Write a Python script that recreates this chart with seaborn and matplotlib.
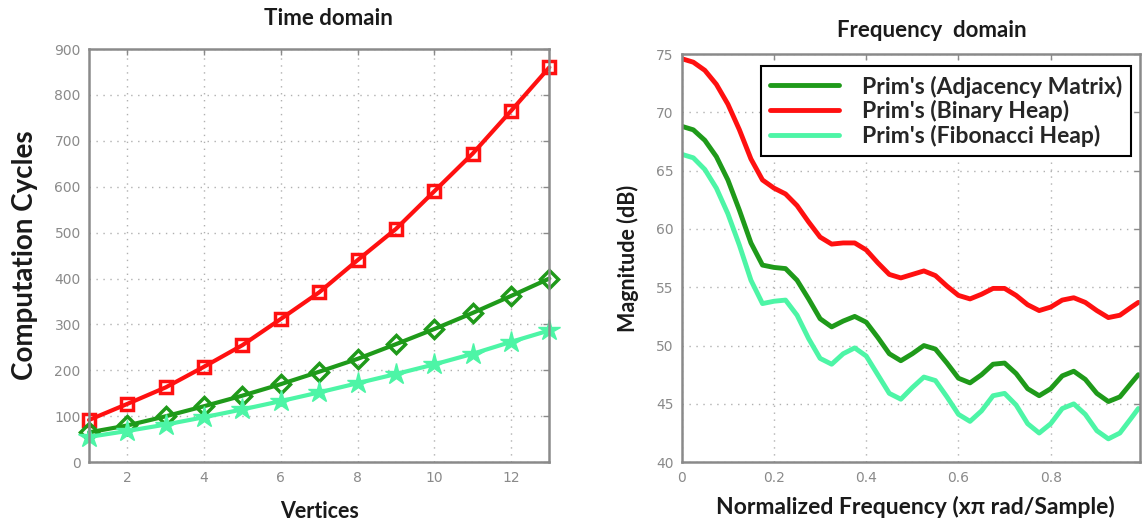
import matplotlib
matplotlib.use("Agg")
import matplotlib.pyplot as plt
import seaborn as sns
import numpy as np
import pandas as pd

sns.set_theme(style="white")
plt.rcParams['font.family'] = ['DejaVu Sans']

# ---- Time domain data ----
vertices = [1, 2, 3, 4, 5, 6, 7, 8, 9, 10, 11, 12, 13]
binary_cycles = [92, 127, 163, 208, 255, 312, 370, 440, 508, 590, 672, 765, 860]
adjacency_cycles = [65, 80, 100, 122, 145, 170, 197, 225, 257, 290, 325, 362, 400]
fibonacci_cycles = [55, 68, 82, 98, 115, 133, 152, 172, 192, 213, 236, 262, 287]

# ---- Frequency domain data ----
freq = [0.000, 0.025, 0.050, 0.075, 0.100, 0.125, 0.150, 0.175, 0.200, 0.225,
        0.250, 0.275, 0.300, 0.325, 0.350, 0.375, 0.400, 0.425, 0.450, 0.475,
        0.500, 0.525, 0.550, 0.575, 0.600, 0.625, 0.650, 0.675, 0.700, 0.725,
        0.750, 0.775, 0.800, 0.825, 0.850, 0.875, 0.900, 0.925, 0.950, 0.975, 0.990]
binary_mag = [74.6, 74.3, 73.6, 72.4, 70.7, 68.5, 66.0, 64.2, 63.5, 63.0,
              62.0, 60.6, 59.3, 58.7, 58.8, 58.8, 58.2, 57.1, 56.1, 55.8,
              56.1, 56.4, 56.0, 55.1, 54.3, 54.0, 54.4, 54.9, 54.9, 54.3,
              53.5, 53.0, 53.3, 53.9, 54.1, 53.7, 53.0, 52.4, 52.6, 53.3, 53.7]
adjacency_mag = [68.8, 68.5, 67.6, 66.2, 64.2, 61.6, 58.8, 56.9, 56.7, 56.6,
                 55.6, 54.0, 52.3, 51.6, 52.1, 52.5, 52.0, 50.7, 49.3, 48.7,
                 49.3, 50.0, 49.7, 48.5, 47.2, 46.8, 47.5, 48.4, 48.5, 47.6,
                 46.3, 45.7, 46.3, 47.4, 47.8, 47.1, 45.9, 45.2, 45.6, 46.8, 47.5]
fibonacci_mag = [66.4, 66.1, 65.1, 63.5, 61.3, 58.6, 55.6, 53.6, 53.8, 53.9,
                 52.6, 50.6, 48.9, 48.4, 49.3, 49.8, 49.1, 47.5, 45.9, 45.4,
                 46.4, 47.3, 47.0, 45.6, 44.1, 43.5, 44.4, 45.7, 45.9, 44.9,
                 43.3, 42.5, 43.3, 44.6, 45.0, 44.1, 42.7, 42.0, 42.5, 43.8, 44.6]

labels = ["Prim's (Adjacency Matrix)", "Prim's (Binary Heap)", "Prim's (Fibonacci Heap)"]
C_GREEN = "#1f9a1a"
C_RED = "#ff1010"
C_CYAN = "#4df5a6"
GRAY = "#8a8a8a"
TITLE_C = "#1a1a1a"

fig = plt.figure(figsize=(11.42, 5.27), dpi=100)
ax1 = fig.add_axes([0.078, 0.123, 0.403, 0.784])
ax2 = fig.add_axes([0.597, 0.123, 0.401, 0.7745])

def style(ax):
    for s in ax.spines.values():
        s.set_color(GRAY)
        s.set_linewidth(1.8)
    ax.tick_params(direction='in', colors=GRAY, labelcolor=GRAY, labelsize=10,
                   length=4, width=1, top=True, right=True, pad=6)
    ax.grid(True, linestyle=(0, (1, 4)), color="#b0b0b0", linewidth=1)
    ax.set_axisbelow(True)

# Left chart
sns.lineplot(x=vertices, y=binary_cycles, ax=ax1, color=C_RED, linewidth=3,
             marker='s', markersize=9, markerfacecolor='none', markeredgecolor=C_RED,
             markeredgewidth=2.5)
sns.lineplot(x=vertices, y=adjacency_cycles, ax=ax1, color=C_GREEN, linewidth=3,
             marker='D', markersize=9, markerfacecolor='none', markeredgecolor=C_GREEN,
             markeredgewidth=2.5)
sns.lineplot(x=vertices, y=fibonacci_cycles, ax=ax1, color=C_CYAN, linewidth=3,
             marker='*', markersize=16, markerfacecolor=C_CYAN, markeredgecolor=C_CYAN,
             markeredgewidth=1)
ax1.set_xlim(1, 13)
ax1.set_ylim(0, 900)
ax1.set_xticks([2, 4, 6, 8, 10, 12])
ax1.set_yticks(range(0, 1000, 100))
style(ax1)
for l in ax1.lines:
    l.set_clip_on(False)
ax1.set_title("Time domain", family='Lato', fontweight='bold', fontsize=16,
              color=TITLE_C, pad=17, x=0.52)
ax1.set_xlabel("Vertices", family='Lato', fontweight='bold', fontsize=15.5,
               color=TITLE_C, labelpad=12)
ax1.set_ylabel("Computation Cycles", family='Lato', fontweight='bold', fontsize=20,
               color=TITLE_C, labelpad=12)

# Right chart
sns.lineplot(x=freq, y=adjacency_mag, ax=ax2, color=C_GREEN, linewidth=3.5, label=labels[0])
sns.lineplot(x=freq, y=binary_mag, ax=ax2, color=C_RED, linewidth=3.5, label=labels[1])
sns.lineplot(x=freq, y=fibonacci_mag, ax=ax2, color=C_CYAN, linewidth=3.5, label=labels[2])
ax2.set_xlim(0, 0.993)
ax2.set_ylim(40, 75)
ax2.set_xticks([0, 0.2, 0.4, 0.6, 0.8])
ax2.set_xticklabels(["0", "0.2", "0.4", "0.6", "0.8"])
ax2.set_yticks(range(40, 80, 5))
style(ax2)
ax2.set_title("Frequency  domain", family='Lato', fontweight='bold', fontsize=16,
              color=TITLE_C, pad=12, x=0.545)
ax2.set_xlabel("Normalized Frequency (x\u03c0 rad/Sample)", family='Lato',
               fontweight='bold', fontsize=16.5, color=TITLE_C, labelpad=8, x=0.51)
ax2.set_ylabel("Magnitude (dB)", family='Lato', fontweight='bold', fontsize=15.5,
               color=TITLE_C, labelpad=12)
leg = ax2.legend(loc='upper right', bbox_to_anchor=(0.982, 0.97), frameon=True,
                 fancybox=False, edgecolor='black', framealpha=1,
                 prop={'family': 'Lato', 'weight': 'bold', 'size': 16.5},
                 handlelength=3.0, handletextpad=1.0, borderpad=0.4, labelspacing=0.12,
                 borderaxespad=0)
leg.get_frame().set_linewidth(1.5)

fig.savefig("out.png", dpi=100)
